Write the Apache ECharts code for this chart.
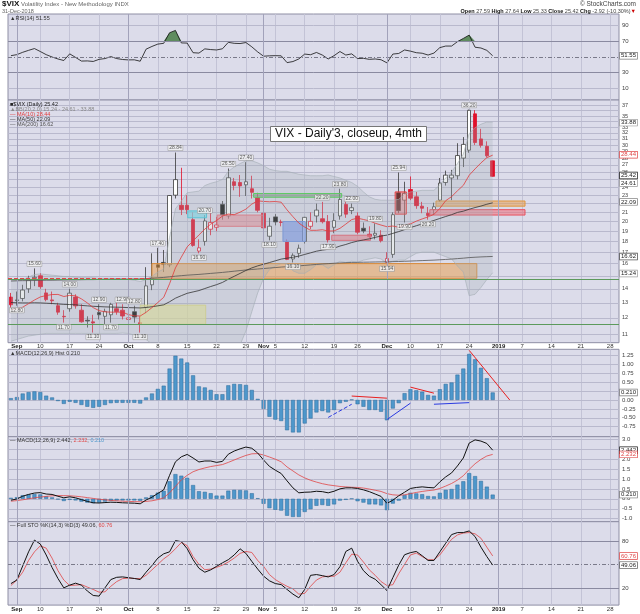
<!DOCTYPE html>
<html>
<head>
<meta charset="utf-8">
<script src="https://cdn.jsdelivr.net/npm/echarts@6/dist/echarts.min.js"></script>
<style>
html,body{margin:0;padding:0;background:#fff;}
#chart{width:640px;height:614px;}
</style>
</head>
<body>
<div id="chart"></div>
<script>
// ---------------- DATA ----------------
const dates = ['8/31',
 '9/4','9/5','9/6','9/7','9/10','9/11','9/12','9/13','9/14','9/17','9/18','9/19','9/20','9/21','9/24','9/25','9/26','9/27','9/28',
 '10/1','10/2','10/3','10/4','10/5','10/8','10/9','10/10','10/11','10/12','10/15','10/16','10/17','10/18','10/19','10/22','10/23','10/24','10/25','10/26','10/29','10/30','10/31',
 '11/1','11/2','11/5','11/6','11/7','11/8','11/9','11/12','11/13','11/14','11/15','11/16','11/19','11/20','11/21','11/23','11/26','11/27','11/28','11/29','11/30',
 '12/3','12/4','12/6','12/7','12/10','12/11','12/12','12/13','12/14','12/17','12/18','12/19','12/20','12/21','12/24','12/26','12/27','12/28','12/31',
 '1/1','1/2','1/3','1/4','1/7','1/8','1/9','1/10','1/11','1/14','1/15','1/16','1/17','1/18','1/21','1/22','1/23','1/24','1/25','1/28','1/29'];
const tickDates = ['9/4','9/10','9/17','9/24','10/1','10/8','10/15','10/22','10/29','11/1','11/5','11/12','11/19','11/26','12/3','12/10','12/17','12/24','1/1','1/7','1/14','1/21','1/28'];
const tickTexts = ['Sep','10','17','24','Oct','8','15','22','29','Nov','5','12','19','26','Dec','10','17','24','2019','7','14','21','28'];
const monthStartDates = ['9/4','10/1','11/1','12/3','1/1'];

const prevClose0 = 13.53;
const opens = [13.40,13.20,13.30,14.00,14.80,15.00,13.70,13.20,12.80,12.10,
 12.60,13.40,12.50,11.85,11.75,12.35,12.10,12.20,12.60,12.50,
 11.90,12.40,11.70,12.70,14.30,15.90,16.10,15.90,23.00,21.80,
 21.80,20.20,17.10,18.00,19.20,19.40,21.90,20.60,24.70,24.60,
 24.30,23.80,22.70,20.90,18.50,20.50,19.95,18.00,16.40,16.90,
 18.00,19.50,20.60,20.30,20.00,19.40,20.60,21.90,21.20,20.60,
 19.30,18.70,18.60,18.60,16.10,16.80,23.30,22.40,23.70,22.80,
 21.70,20.90,21.30,22.40,24.60,25.20,25.50,28.00,29.20,35.40,
 31.00,29.80,27.59];
const highs = [13.70,13.80,14.30,15.00,15.60,15.20,14.00,13.80,13.00,12.50,
 14.00,13.60,12.90,12.10,12.20,12.90,12.60,13.00,13.00,12.90,
 12.40,12.80,12.10,15.70,16.90,17.40,17.20,23.00,28.84,26.60,
 23.00,21.00,18.20,20.70,21.50,20.50,22.30,26.50,25.20,25.60,
 27.40,25.50,23.30,21.40,20.40,20.80,20.20,18.20,16.90,17.70,
 20.50,21.00,22.00,22.20,20.70,20.90,23.80,22.40,22.00,21.00,
 19.90,19.50,19.80,19.10,17.00,21.00,25.94,24.70,25.40,23.40,
 22.20,21.60,22.10,25.20,26.20,26.30,30.30,31.30,36.20,36.10,
 32.70,30.60,27.64];
const lows = [12.60,12.80,13.10,13.70,14.20,14.00,13.10,12.90,12.20,11.70,
 12.40,12.60,11.70,11.40,11.10,11.90,11.60,11.70,12.20,11.90,
 11.60,11.70,11.10,12.30,13.90,14.90,15.30,15.70,22.60,20.70,
 20.80,17.50,16.90,17.60,18.60,19.00,20.20,20.30,23.60,22.80,
 22.90,22.60,21.00,19.20,18.10,19.60,19.50,16.30,16.10,16.50,
 17.80,19.20,19.90,19.80,17.90,18.80,20.20,20.40,20.80,18.70,
 18.80,18.30,18.20,17.90,15.94,16.50,20.90,19.90,22.40,21.40,
 20.90,20.20,20.80,22.20,24.20,22.40,25.00,26.70,28.80,30.00,
 29.60,28.10,25.33];
const closes = [12.86,13.16,13.91,14.65,14.88,14.16,13.22,13.14,12.37,12.07,
 13.68,12.79,11.75,11.80,11.68,12.20,12.42,12.89,12.41,12.12,
 12.00,12.05,11.61,14.22,14.82,15.69,15.95,22.96,24.98,21.31,
 21.30,17.62,17.40,20.06,19.89,19.64,20.71,25.23,24.22,24.16,
 24.70,23.35,21.23,19.34,19.51,19.96,19.91,16.36,16.72,17.36,
 20.45,20.02,21.25,19.98,18.14,20.10,22.48,20.80,21.52,18.90,
 19.02,18.49,18.79,18.07,16.44,20.74,21.19,23.23,22.64,21.76,
 21.46,20.65,21.63,24.52,25.58,25.58,28.38,30.11,36.07,30.41,
 29.96,28.34,25.42];
const ma10 = [12.53,12.60,12.70,12.94,13.19,13.41,13.51,13.58,13.59,13.44,
 13.52,13.49,13.27,12.99,12.67,12.47,12.39,12.37,12.37,12.37,
 12.21,12.13,12.12,12.36,12.67,13.02,13.38,14.38,15.64,16.56,
 17.49,18.05,18.63,19.21,19.72,20.11,20.59,20.81,20.74,21.02,
 21.36,21.94,22.32,22.25,22.21,22.24,22.16,21.27,20.52,19.84,
 19.42,19.09,19.09,19.15,19.02,19.03,19.29,19.73,20.21,20.36,
 20.22,20.07,19.82,19.63,19.46,19.53,19.40,19.64,19.75,20.04,
 20.28,20.50,20.78,21.43,22.34,22.82,23.54,24.23,25.57,26.44,
 27.29,28.06,28.44];
const ma50 = [13.02,13.00,12.99,12.99,13.00,12.99,12.97,12.95,12.92,12.89,
 12.88,12.86,12.82,12.79,12.76,12.74,12.72,12.71,12.70,12.69,
 12.67,12.66,12.65,12.68,12.73,12.79,12.86,13.07,13.32,13.50,
 13.67,13.77,13.87,14.02,14.17,14.31,14.48,14.73,14.96,15.19,
 15.43,15.64,15.81,15.95,16.09,16.24,16.39,16.47,16.55,16.65,
 16.80,16.94,17.09,17.19,17.26,17.37,17.56,17.71,17.89,18.03,
 18.14,18.25,18.39,18.52,18.61,18.78,18.96,19.16,19.37,19.56,
 19.75,19.92,20.12,20.33,20.54,20.74,20.99,21.13,21.35,21.54,
 21.71,21.92,22.09];
const ma200 = [14.60,14.61,14.62,14.62,14.63,14.64,14.65,14.65,14.66,14.67,
 14.68,14.68,14.69,14.70,14.70,14.71,14.72,14.72,14.73,14.74,
 14.74,14.75,14.75,14.78,14.81,14.84,14.87,14.92,14.97,15.01,
 15.05,15.08,15.11,15.15,15.19,15.23,15.27,15.32,15.37,15.42,
 15.47,15.51,15.55,15.59,15.63,15.67,15.71,15.74,15.77,15.81,
 15.85,15.89,15.93,15.97,16.00,16.03,16.06,16.08,16.10,16.11,
 16.12,16.13,16.14,16.15,16.15,16.17,16.18,16.20,16.22,16.24,
 16.26,16.28,16.30,16.33,16.36,16.39,16.43,16.47,16.52,16.55,
 16.58,16.60,16.62];
const bbUpper = [14.55,14.60,14.70,14.90,15.10,15.15,15.10,15.05,15.00,14.95,
 14.95,14.90,14.85,14.85,14.85,14.80,14.80,14.80,14.78,14.75,
 14.72,14.65,14.55,14.70,14.95,15.30,15.55,18.40,21.40,22.30,
 23.30,23.40,23.50,24.20,24.50,24.70,25.00,26.10,26.70,27.20,
 27.60,27.60,27.30,26.90,26.40,26.20,26.10,26.10,25.90,25.70,
 25.60,25.50,25.50,25.50,25.60,25.40,25.20,24.90,24.60,24.10,
 23.40,22.80,22.50,22.40,22.40,22.40,22.50,23.10,23.40,23.50,
 23.60,23.60,23.60,24.30,25.20,26.00,27.20,28.60,31.90,32.90,
 33.50,33.90,33.88];
const bbLower = [10.60,10.70,10.80,10.90,10.95,11.00,11.05,11.05,11.05,11.05,
 11.05,11.05,11.05,11.05,11.05,11.05,11.05,11.05,11.05,11.07,
 11.05,10.95,10.85,10.70,10.45,10.25,10.20,8.40,6.60,6.60,
 6.40,6.80,7.20,7.40,7.90,8.40,9.00,9.20,9.70,10.40,
 11.20,12.40,13.70,14.80,15.50,15.80,16.00,16.00,15.40,15.20,
 15.20,15.50,15.90,15.90,15.60,15.90,16.20,16.10,16.20,16.10,
 16.30,16.40,16.50,16.40,16.00,16.20,16.30,16.30,16.60,16.90,
 17.00,17.00,17.00,16.80,16.60,16.40,15.80,15.30,13.50,13.60,
 14.10,14.70,15.24];
const rsi = [51.7,53,56,58.5,60.8,57,53,50,47.5,45.5,
 54,49.5,44.8,45,44.3,47,48,50.5,48,46.8,
 46.3,46.4,44.6,60,63.5,66.5,67.5,81,84,68,
 67.8,55.5,55,60.4,59.5,59,60.5,68.75,67.5,67.2,
 68.5,63,56.5,51,51.5,51.7,51.5,42.8,44.2,47.5,
 53.75,52.9,55.8,52.5,47.5,51.7,57,52.5,54,48,
 48.3,47,47.5,46.5,42.5,53.75,54.5,59,57.5,55.5,
 54.8,52.5,55,62,64,64,69.6,73.75,78,62.5,
 61.5,58.5,51.55];
const macdHist = [0.05,0.08,0.18,0.22,0.24,0.22,0.12,0.07,-0.03,-0.11,
 -0.05,-0.08,-0.14,-0.19,-0.22,-0.19,-0.14,-0.09,-0.08,-0.08,
 -0.08,-0.08,-0.10,0.07,0.18,0.31,0.40,0.88,1.24,1.16,
 1.05,0.69,0.38,0.35,0.28,0.16,0.16,0.41,0.45,0.44,
 0.42,0.28,0.03,-0.25,-0.47,-0.55,-0.59,-0.85,-0.91,-0.91,
 -0.66,-0.52,-0.35,-0.31,-0.35,-0.28,-0.09,-0.05,0.01,-0.12,
 -0.19,-0.28,-0.28,-0.33,-0.57,-0.24,-0.09,0.19,0.30,0.27,
 0.23,0.14,0.12,0.30,0.45,0.49,0.71,0.88,1.29,1.14,
 0.90,0.61,0.21];
const macdLine = [-0.07,-0.01,0.13,0.22,0.29,0.31,0.24,0.22,0.13,0.05,
 0.10,0.05,-0.04,-0.13,-0.20,-0.21,-0.19,-0.17,-0.18,-0.20,
 -0.21,-0.22,-0.25,-0.06,0.08,0.27,0.45,1.18,1.86,2.11,
 2.23,2.05,1.85,1.90,1.90,1.83,1.88,2.24,2.40,2.51,
 2.60,2.54,2.30,1.95,1.63,1.44,1.27,0.90,0.55,0.30,
 0.33,0.34,0.38,0.36,0.30,0.38,0.50,0.55,0.55,0.52,
 0.45,0.36,0.24,0.12,-0.23,-0.07,0.15,0.33,0.52,0.57,
 0.60,0.57,0.55,0.85,1.10,1.30,1.65,2.05,2.80,2.96,
 2.90,2.78,2.442];
const macdSignal = [-0.12,-0.09,-0.05,0.00,0.05,0.09,0.12,0.15,0.16,0.16,
 0.15,0.13,0.10,0.06,0.02,-0.02,-0.05,-0.08,-0.10,-0.12,
 -0.13,-0.14,-0.15,-0.13,-0.10,-0.04,0.05,0.30,0.62,0.95,
 1.18,1.36,1.47,1.55,1.62,1.67,1.72,1.83,1.95,2.07,
 2.18,2.26,2.27,2.20,2.10,1.99,1.86,1.60,1.40,1.20,
 1.05,0.93,0.84,0.76,0.70,0.66,0.62,0.60,0.58,0.57,
 0.54,0.49,0.43,0.37,0.26,0.20,0.18,0.20,0.26,0.32,
 0.37,0.41,0.44,0.52,0.64,0.77,0.94,1.16,1.48,1.76,
 1.98,2.15,2.232];
const stoK = [25.5,30,48,66,81,76,62,46,32,20,
 23.5,26,23.5,16,10.3,9.5,20,30.6,33.5,34,
 33,32,30.6,40,48.5,58,63.5,66,80.4,79,
 70,56,45,40,43,47.5,52,56,62,69.9,
 64,53.8,44,35,29,25.5,24.2,18,12,7.3,
 18,36,37,35.6,34,37,47,66.5,70.7,54,
 42,34.8,31,24,16.6,33,49,62.3,65,66.5,
 61,55,55,66,77,88,90.6,90.6,92.7,85.5,
 72,60,49.06];
const stoD = [23,30,40,55,66,73.7,70.7,58,42,30,
 23,23.5,24.2,21,18,14.5,15,22,28,31.8,
 32.5,32,31.8,36,43,50,57,62.5,70,77.9,
 74,60,50,43.2,44,46.2,49,53,58,64,
 66.5,65.2,55,47.5,37,30.6,26,22,18.7,12,
 13,22,30,34,35,34.8,40,52,63,62,
 53,43,36,28,23,24,38,50,62,64.4,
 60,56,55.9,62,72,82,87.6,90,90.6,89,
 83.4,72,60.76];
const pivotHighIdx = [4,10,15,19,21,25,28,33,37,40,53,56,58,62,66,78];
const pivotLowIdx = [1,9,14,17,22,32,44,48,54,64,67,71];

const mainTicks = [11,12,13,14,15,16,17,18,19,20,21,22,23,24,25,26,27,28,29,30,31,32,33,34,35,36,37];
const rsiTicks = [10,30,70,90];
const histTicks = [-0.75,-0.5,-0.25,0,0.25,0.5,0.75,1,1.25];
const macdTicks = [-1,-0.5,0,0.5,1,1.5,2,2.5,3];
const stoTicks = [20,80];

// annotation zones drawn on the price panel: day-index range and value range
const zones = [
 {x:[24.0,79.3], y:[14.8,16.0],   fill:'rgba(232,160,82,0.55)', stroke:'#d98b3a'},
 {x:[22.0,33.15],y:[11.6,12.84],  fill:'rgba(236,232,140,0.62)', stroke:'rgba(220,215,120,0.8)'},
 {x:[30.1,33.3], y:[20.4,21.16],  fill:'rgba(110,225,240,0.65)', stroke:'#3ccbe0'},
 {x:[35.1,43.0], y:[19.5,20.7],   fill:'rgba(240,120,130,0.5)',  stroke:'#e8707c'},
 {x:[41.3,56.3], y:[22.75,23.2],  fill:'rgba(120,140,120,0.55)', stroke:'#3dd43d'},
 {x:[46.3,50.1], y:[18.0,20.0],   fill:'rgba(110,145,235,0.65)', stroke:'#6d8fe0'},
 {x:[54.6,61.2], y:[18.1,18.6],   fill:'rgba(240,110,120,0.55)', stroke:'#e85a6a'},
 {x:[65.4,67.3], y:[20.8,23.4],   fill:'rgba(240,100,100,0.4)',  stroke:'#e43a3a'},
 {x:[72.35,87.5],y:[21.7,22.3],   fill:'rgba(232,160,82,0.55)',  stroke:'#e0963c'},
 {x:[71.3,87.5], y:[20.7,21.3],   fill:'rgba(240,110,120,0.55)', stroke:'#e8505e'}
];
// trend lines on the MACD histogram: [[x1,y1],[x2,y2], color, type]
const histTrends = [
 [[78,1.39],[84.9,0.0],'#e82020','solid'],
 [[58,0.11],[64,0.05],'#e82020','solid'],
 [[68,0.36],[72,0.19],'#e82020','solid'],
 [[54,-0.49],[58,-0.12],'#2a3ae0','dashed'],
 [[64,-0.55],[68,-0.09],'#2a3ae0','solid'],
 [[72,-0.12],[78,-0.075],'#2a3ae0','solid']
];

// ---------------- CHART ----------------
const FF = 'Liberation Sans, Arial, sans-serif';
const L = Math.log;
const N = dates.length;
const weekIdx = tickDates.map(d => dates.indexOf(d));
const weekSet = new Set(weekIdx);
const monthIdx = monthStartDates.map(d => dates.indexOf(d));
const tickTextByIdx = {};
weekIdx.forEach((ix, k) => tickTextByIdx[ix] = tickTexts[k]);
const monthNames = new Set(['Sep','Oct','Nov','Dec','2019']);

const BG = '#dcdcea', GRIDC = '#c3c3d6', HGRIDC = '#b9b9cd', BORDER = '#8e8ea4';
const NOTICK = {show:false, length:0, lineStyle:{width:0, color:'rgba(0,0,0,0)'}};
const gridDefs = [[14,86],[100,242.7],[349.3,87.4],[436.7,85],[521.7,83.4]];
const grid = gridDefs.map(g => ({left:8, right:21, top:g[0], height:g[1], show:true,
  backgroundColor:BG, borderColor:BORDER, borderWidth:1}));

const catAxis = (gi, showLabel) => ({
  type:'category', gridIndex:gi, data:dates, boundaryGap:true,
  axisLine:{show:false, onZero:false}, axisTick:Object.assign({}, NOTICK), splitLine:{show:false},
  axisLabel: showLabel ? {
    show:true, interval:(i) => weekSet.has(i), margin:1, fontSize:6, color:'#333', fontFamily:FF,
    formatter:(v, i) => { const t = tickTextByIdx[i] || ''; return monthNames.has(t) ? '{m|' + t + '}' : t; },
    rich:{m:{fontWeight:'bold', fontSize:6, color:'#222', fontFamily:FF}}
  } : {show:false}
});
const valAxis = gi => ({
  type:'value', gridIndex:gi, min:-0.5, max:N - 0.5, position:'top',
  axisLine:{show:false, onZero:false}, axisLabel:{show:false},
  axisTick:Object.assign({customValues:weekIdx}, NOTICK),
  splitLine:{show:true, lineStyle:{color:GRIDC, width:1}}
});
const yAx = (gi, min, max, ticks, fmt, fs) => ({
  type:'value', gridIndex:gi, position:'right', min, max,
  axisLine:{show:false, onZero:false},
  axisTick:Object.assign({customValues:ticks}, NOTICK),
  axisLabel:{show:true, customValues:ticks, formatter:fmt, fontSize:fs || 6, color:'#444', margin:3, fontFamily:FF,
    hideOverlap:false, showMinLabel:true, showMaxLabel:true},
  splitLine:{show:false}
});

const xAxis = [catAxis(0,false), catAxis(1,true), catAxis(2,false), catAxis(3,false), catAxis(4,true),
  valAxis(0), valAxis(1), valAxis(2), valAxis(3), valAxis(4)];
const yAxis = [
  yAx(0, -5, 105, rsiTicks, v => String(v)),
  yAx(1, L(10.52), L(38.1), mainTicks.map(L), v => String(Math.round(Math.exp(v))), 5.5),
  yAx(2, -1.03, 1.42, histTicks, v => v.toFixed(2)),
  yAx(3, -1.15, 3.12, macdTicks, v => v.toFixed(1)),
  yAx(4, -2, 104.5, stoTicks, v => String(v))
];

const box = (y, text, border, color) => ({
  yAxis:y, lineStyle:{color:'rgba(0,0,0,0)', width:0, opacity:1},
  label:{show:true, position:'end', distance:1, formatter:text, fontSize:6, fontFamily:FF, opacity:1,
    color:color || '#222', backgroundColor:'#fff', borderColor:border, borderWidth:0.7, padding:[0,1,0,1]}
});
const monthLines = () => monthIdx.map(ix => ({xAxis:ix, lineStyle:{color:'#a2a2ba', width:1, type:'solid', opacity:1}}));
const hLine = (y, color, type) => ({yAxis:y, lineStyle:{color, width:1, type:type || 'solid'}});
const mlBase = extra => ({silent:true, symbol:['none','none'], animation:false, label:{show:false},
  data:extra});
// horizontal grid lines at the tick values of each panel, drawn as full-width segments under the series
const gridLineSeries = (xi, yi, ticks) => ({type:'line', xAxisIndex:xi, yAxisIndex:yi, data:[], silent:true, animation:false, z:1,
  markLine:{silent:true, symbol:['none','none'], animation:false, label:{show:false}, z:1,
    data: ticks.map(t => [{coord:[-0.5, t], lineStyle:{color:HGRIDC, width:1, type:'solid'}}, {coord:[N - 0.5, t]}])}});

const candleData = opens.map((o, i) => {
  const c = closes[i], pc = i ? closes[i-1] : prevClose0;
  const col = c < pc ? '#e0102a' : '#3a3a3a';
  const fill = c > o ? '#ffffff' : (c < pc ? '#e0102a' : '#111111');
  return {value:[L(o), L(c), L(lows[i]), L(highs[i])],
    itemStyle:{color:fill, color0:fill, borderColor:col, borderColor0:col, borderWidth:0.8}};
});

const pivotLabel = (pos) => ({show:true, position:pos, distance:2, formatter:'{b}', fontSize:5, fontFamily:FF,
  color:'#333', backgroundColor:'#f2f2f2', borderColor:'#8a8a8a', borderWidth:0.5, padding:[0,1,0,1]});
const pivotData = pivotHighIdx.map(i => ({value:[i, L(highs[i])], name:highs[i].toFixed(2), label:pivotLabel('top')}))
  .concat(pivotLowIdx.map(i => ({value:[i, L(lows[i])], name:lows[i].toFixed(2), label:pivotLabel('bottom')})));

const lineS = (name, xi, yi, data, color, width, extra) => Object.assign({
  name, type:'line', xAxisIndex:xi, yAxisIndex:yi, data, showSymbol:false, symbol:'none',
  lineStyle:{color, width}, silent:true, animation:false
}, extra || {});

const histBar = (xi, yi) => ({type:'bar', xAxisIndex:xi, yAxisIndex:yi, data:macdHist, barWidth:4,
  itemStyle:{color:'#4e97cb', borderColor:'#2b6a9a', borderWidth:0.5}, silent:true, animation:false});

const series = [
  gridLineSeries(5, 0, rsiTicks),
  gridLineSeries(6, 1, mainTicks.map(L)),
  gridLineSeries(7, 2, histTicks),
  gridLineSeries(8, 3, macdTicks),
  // RSI panel
  lineS('rsiBase', 0, 0, rsi.map(() => 70), 'transparent', 0, {stack:'ob', lineStyle:{opacity:0}}),
  lineS('rsiOver', 0, 0, rsi.map(v => Math.max(v, 70) - 70), 'transparent', 0,
    {stack:'ob', lineStyle:{opacity:0}, areaStyle:{color:'#5f8c5f', opacity:1}}),
  lineS('RSI', 0, 0, rsi, '#111', 0.8, {markLine: mlBase([
    hLine(70,'#8a8aa0'), hLine(30,'#8a8aa0'), hLine(50,'#7a7a8a',[4,2,1,2]),
    ...monthLines(), box(51.55,'51.55','#777')])}),
  // price panel
  lineS('bbLow', 1, 1, bbLower.map(L), '#a3acb4', 0.6, {stack:'bb'}),
  lineS('bbBand', 1, 1, bbUpper.map((u, i) => L(u) - L(bbLower[i])), '#a3acb4', 0.6,
    {stack:'bb', areaStyle:{color:'rgba(165,176,184,0.42)'}}),
  lineS('MA200', 1, 1, ma200.map(L), '#555', 0.8),
  lineS('MA50', 1, 1, ma50.map(L), '#333', 0.8),
  lineS('MA10', 1, 1, ma10.map(L), '#e03a3a', 0.8),
  {name:'VIX', type:'candlestick', xAxisIndex:1, yAxisIndex:1, data:candleData, barWidth:4, silent:true, animation:false,
   markLine: mlBase([...monthLines()])},
  {name:'zones', type:'line', xAxisIndex:6, yAxisIndex:1, data:[], silent:true, animation:false,
   markArea:{silent:true, z:3, data: zones.map(z => [
     {xAxis:z.x[0], yAxis:L(z.y[1]), itemStyle:{color:z.fill, borderColor:z.stroke, borderWidth:1}},
     {xAxis:z.x[1], yAxis:L(z.y[0])}])},
   markLine: mlBase([
     hLine(L(14.8), '#5c9a5c'), hLine(L(11.6), '#5c9a5c'),
     [{coord:[-0.5, L(14.8)], lineStyle:{color:'#e04848', width:1}}, {coord:[24.0, L(14.8)]}],
     box(L(33.88),'33.88','#999'), box(L(28.44),'28.44','#e04848','#e04848'), box(L(25.42),'25.42','#111'),
     box(L(24.61),'24.61','#999'), box(L(22.09),'22.09','#777'), box(L(16.62),'16.62','#444'), box(L(15.24),'15.24','#999')
   ])},
  {name:'pivots', type:'scatter', xAxisIndex:6, yAxisIndex:1, data:pivotData, symbolSize:0, silent:true, animation:false, z:5},
  // MACD histogram panel
  Object.assign(histBar(2, 2), {markLine: mlBase([...monthLines(), box(0.21,'0.210','#777')])}),
  {name:'trends', type:'line', xAxisIndex:7, yAxisIndex:2, data:[], silent:true, animation:false,
   markLine: mlBase(histTrends.map(t => [{coord:t[0], lineStyle:{color:t[2], width:1, type:t[3]}}, {coord:t[1]}]))},
  // MACD panel
  Object.assign(histBar(3, 3), {markLine: mlBase([...monthLines(),
    box(2.442,'2.442','#111'), box(2.232,'2.232','#e04848','#e04848'), box(0.21,'0.210','#777')])}),
  lineS('signal', 3, 3, macdSignal, '#e04545', 0.8),
  lineS('macd', 3, 3, macdLine, '#111', 1),
  // Stochastics panel
  lineS('%D', 4, 4, stoD, '#e04545', 0.8, {markLine: mlBase([
    hLine(80,'#8a8aa0'), hLine(20,'#8a8aa0'), hLine(50,'#7a7a8a',[4,2,1,2]), ...monthLines(),
    box(60.76,'60.76','#e04848','#e04848'), box(49.06,'49.06','#555')])}),
  lineS('%K', 4, 4, stoK, '#111', 1)
];

const T = (text, pos, top, style, extra) => Object.assign({text, top, padding:0, itemGap:0,
  textStyle:Object.assign({fontSize:6, fontWeight:'normal', color:'#333', fontFamily:FF}, style || {})}, pos, extra || {});
const title = [
  T('{b|$VIX} {g|Volatility Index - New Methodology INDX}', {left:2}, 0, {rich:{
    b:{fontSize:8, fontWeight:'bold', color:'#111', fontFamily:FF}, g:{fontSize:6, color:'#666', fontFamily:FF}}}),
  T('© StockCharts.com', {right:4}, 1, {fontSize:6.5, color:'#444'}),
  T('31-Dec-2018', {left:2}, 8, {fontSize:5.5, color:'#666'}),
  T('{k|Open} 27.59 {k|High} 27.64 {k|Low} 25.33 {k|Close} 25.42 {k|Chg} -2.92 (-10.30%){r|▼}', {right:4}, 8,
    {fontSize:5.5, color:'#444', rich:{k:{fontWeight:'bold', fontSize:5.5, color:'#111', fontFamily:FF},
      r:{fontSize:5.5, color:'#c00', fontFamily:FF}}}),
  T('▲RSI(14) 51.55', {left:10}, 15.5, {fontSize:5.5, color:'#333'}),
  T('■$VIX (Daily) 25.42', {left:10}, 101.5, {fontSize:5.5, color:'#222'}),
  T('▲BB(20,2.0) 15.24 - 24.61 - 33.88', {left:10}, 106.5, {fontSize:5.5, color:'#888'}),
  T('— MA(10) 28.44', {left:10}, 111.5, {fontSize:5.5, color:'#e03a3a'}),
  T('— MA(50) 22.09', {left:10}, 116.5, {fontSize:5.5, color:'#333'}),
  T('— MA(200) 16.62', {left:10}, 121.5, {fontSize:5.5, color:'#555'}),
  T("VIX - Daily'3, closeup, 4mth", {left:270}, 126, {fontSize:12, color:'#111'},
    {padding:[2,5,2,5], backgroundColor:'#fff', borderColor:'#777', borderWidth:1}),
  T('▲MACD(12,26,9) Hist 0.210', {left:10}, 350.5, {fontSize:5.5, color:'#333'}),
  T('— MACD(12,26,9) 2.442, {r|2.232}, {b|0.210}', {left:10}, 437.5, {fontSize:5.5, color:'#333',
    rich:{r:{fontSize:5.5, color:'#e04848', fontFamily:FF}, b:{fontSize:5.5, color:'#4e97cb', fontFamily:FF}}}),
  T('— Full STO %K(14,3) %D(3) 49.06, {r|60.76}', {left:10}, 522.5, {fontSize:5.5, color:'#333',
    rich:{r:{fontSize:5.5, color:'#e04848', fontFamily:FF}}})
];

const chart = echarts.init(document.getElementById('chart'), null, {renderer:'canvas'});
chart.setOption({animation:false, backgroundColor:'#fff', title, grid, xAxis, yAxis, series});
</script>
</body>
</html>
